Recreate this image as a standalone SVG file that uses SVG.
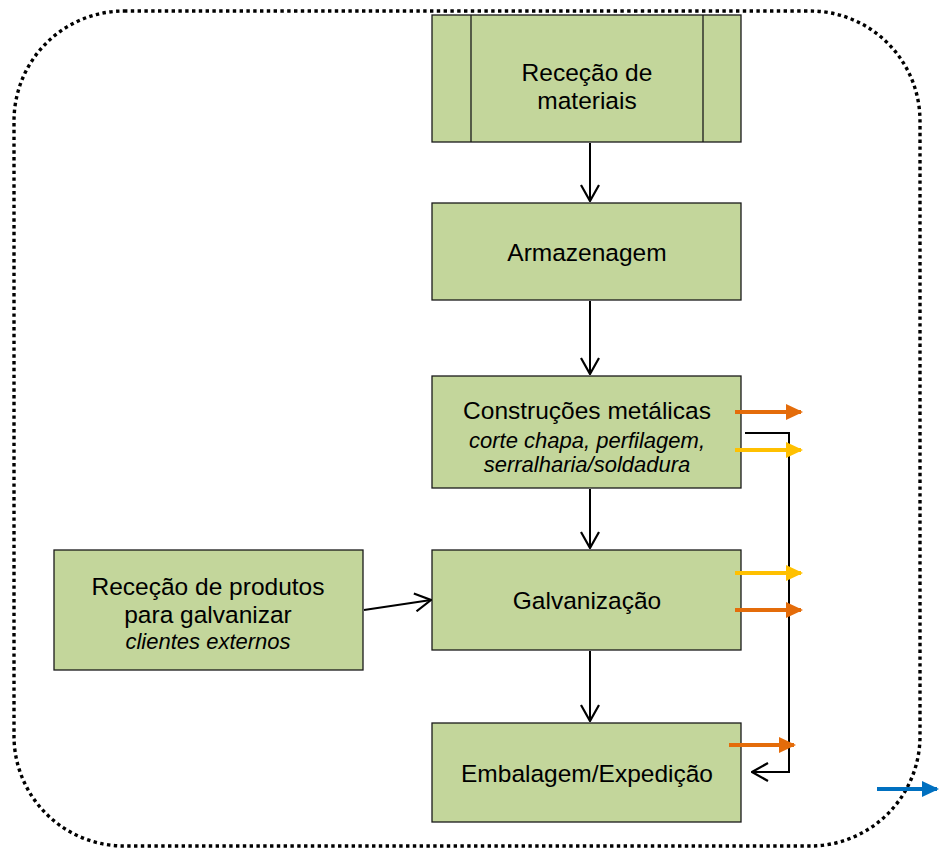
<svg xmlns="http://www.w3.org/2000/svg" width="939" height="849" viewBox="0 0 939 849">
<style>
.box{fill:#c3d69b;stroke:#1a1a1a;stroke-width:1.3}
.t{font-family:"Liberation Sans",Arial,sans-serif;font-size:24.5px;fill:#000;text-anchor:middle}
.i{font-style:italic;font-size:22px}
.con{stroke:#000;stroke-width:2;fill:none}
.or{stroke:#e46c0a;stroke-width:4;fill:none}
.ye{stroke:#ffc000;stroke-width:4;fill:none}
.bl{stroke:#0070c0;stroke-width:4;fill:none}
</style>
<defs>
<marker id="open" viewBox="0 0 18 20" refX="17" refY="10" markerWidth="18" markerHeight="20" markerUnits="userSpaceOnUse" orient="auto">
<path d="M1,1 L17,10 L1,19" fill="none" stroke="#000" stroke-width="2.2"/>
</marker>
<marker id="aor" refX="15" refY="8" markerWidth="18" markerHeight="16" markerUnits="userSpaceOnUse" orient="auto"><path d="M0,0 L17,8 L0,16 z" fill="#e46c0a"/></marker>
<marker id="aye" refX="15" refY="8" markerWidth="18" markerHeight="16" markerUnits="userSpaceOnUse" orient="auto"><path d="M0,0 L17,8 L0,16 z" fill="#ffc000"/></marker>
<marker id="abl" refX="15" refY="8" markerWidth="18" markerHeight="16" markerUnits="userSpaceOnUse" orient="auto"><path d="M0,0 L17,8 L0,16 z" fill="#0070c0"/></marker>
</defs>
<rect x="14" y="11" width="906" height="835" rx="110" ry="110" fill="none" stroke="#000" stroke-width="3.4" stroke-dasharray="3.4,3.4"/>
<g id="rececao-materiais">
<rect class="box" x="432" y="15" width="309" height="127"/>
<line x1="471" y1="15" x2="471" y2="142" stroke="#1a1a1a" stroke-width="1.3"/>
<line x1="703" y1="15" x2="703" y2="142" stroke="#1a1a1a" stroke-width="1.3"/>
<text class="t" x="587" y="81">Receção de</text>
<text class="t" x="587" y="109">materiais</text>
</g>
<g id="armazenagem">
<rect class="box" x="432" y="203" width="309" height="97"/>
<text class="t" x="587" y="261">Armazenagem</text>
</g>
<g id="construcoes">
<rect class="box" x="432" y="376" width="309" height="112"/>
<text class="t" x="587" y="419">Construções metálicas</text>
<text class="t i" x="587" y="448">corte chapa, perfilagem,</text>
<text class="t i" x="587" y="472">serralharia/soldadura</text>
</g>
<g id="galvanizacao">
<rect class="box" x="432" y="550" width="309" height="100"/>
<text class="t" x="587" y="609">Galvanização</text>
</g>
<g id="rececao-produtos">
<rect class="box" x="54" y="550" width="309" height="120"/>
<text class="t" x="208" y="595">Receção de produtos</text>
<text class="t" x="208" y="623">para galvanizar</text>
<text class="t i" x="208" y="649">clientes externos</text>
</g>
<g id="embalagem">
<rect class="box" x="432" y="723" width="309" height="99"/>
<text class="t" x="587" y="782">Embalagem/Expedição</text>
</g>
<g id="connectors">
<line class="con" x1="590" y1="143" x2="590" y2="201" marker-end="url(#open)"/>
<line class="con" x1="590" y1="301" x2="590" y2="374" marker-end="url(#open)"/>
<line class="con" x1="590" y1="489" x2="590" y2="548" marker-end="url(#open)"/>
<line class="con" x1="590" y1="651" x2="590" y2="721" marker-end="url(#open)"/>
<line class="con" x1="364" y1="610" x2="431" y2="600" marker-end="url(#open)"/>
<polyline class="con" points="745,433 789,433 789,772 752,772" marker-end="url(#open)"/>
<line class="or" x1="735" y1="412" x2="801" y2="412" marker-end="url(#aor)"/>
<line class="ye" x1="735" y1="450" x2="801" y2="450" marker-end="url(#aye)"/>
<line class="ye" x1="735" y1="573" x2="801" y2="573" marker-end="url(#aye)"/>
<line class="or" x1="735" y1="610" x2="801" y2="610" marker-end="url(#aor)"/>
<line class="or" x1="729" y1="745" x2="794" y2="745" marker-end="url(#aor)"/>
<line class="bl" x1="877" y1="789" x2="937" y2="789" marker-end="url(#abl)"/>
</g>
</svg>
